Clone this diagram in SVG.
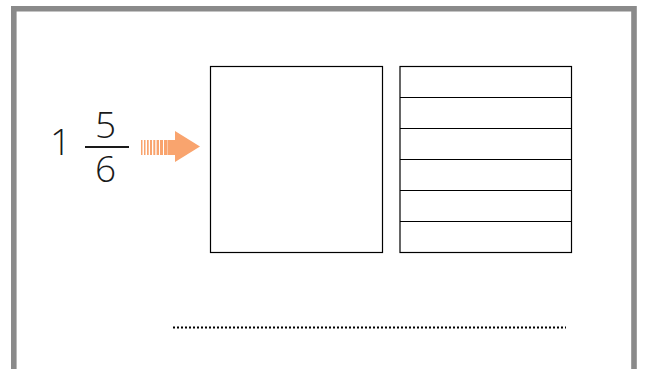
<svg xmlns="http://www.w3.org/2000/svg" width="654" height="369" viewBox="0 0 654 369">
<style>
.box{fill:#fff;stroke:#000;stroke-width:1.2}
.num{font-family:"Open Sans","Liberation Sans",sans-serif;font-weight:300;font-size:37px;fill:#1a1a1a;text-anchor:middle}
.ar{fill:#F9A46E}
</style>
<rect x="0" y="0" width="654" height="369" fill="#fff"/>
<path d="M13.8 372 V8.8 H634 V372" fill="none" stroke="#8a8a8a" stroke-width="5.6"/>
<g id="fraction">
<text class="num" x="60.5" y="154.5">1</text>
<text class="num" x="105.5" y="137.5">5</text>
<line x1="85" y1="147" x2="129" y2="147" stroke="#1a1a1a" stroke-width="2"/>
<text class="num" x="105.5" y="181.5">6</text>
</g>
<g id="arrow" class="ar">
<rect x="141" y="140" width="1.5" height="15"/>
<rect x="144" y="140" width="1.5" height="15"/>
<rect x="147" y="140" width="1.7" height="15"/>
<rect x="150" y="140" width="2" height="15"/>
<rect x="153.3" y="140" width="2" height="15"/>
<rect x="156.6" y="140" width="2.4" height="15"/>
<rect x="160" y="140" width="3" height="15"/>
<rect x="164" y="140" width="3.6" height="15"/>
<rect x="168" y="140" width="8" height="15"/>
<polygon points="175,131 200,146.5 175,162"/>
</g>
<g id="square">
<rect class="box" x="210.5" y="66.5" width="172" height="186"/>
</g>
<g id="strips">
<rect class="box" x="400" y="66.5" width="171.5" height="186"/>
<g stroke="#000" stroke-width="1.2">
<line x1="400" y1="97.5" x2="571.5" y2="97.5"/>
<line x1="400" y1="128.5" x2="571.5" y2="128.5"/>
<line x1="400" y1="159.5" x2="571.5" y2="159.5"/>
<line x1="400" y1="190.5" x2="571.5" y2="190.5"/>
<line x1="400" y1="221.5" x2="571.5" y2="221.5"/>
</g>
</g>
<g id="connectors">
<line x1="173" y1="327.5" x2="566" y2="327.5" stroke="#000" stroke-width="2" stroke-dasharray="2 2"/>
</g>
</svg>
